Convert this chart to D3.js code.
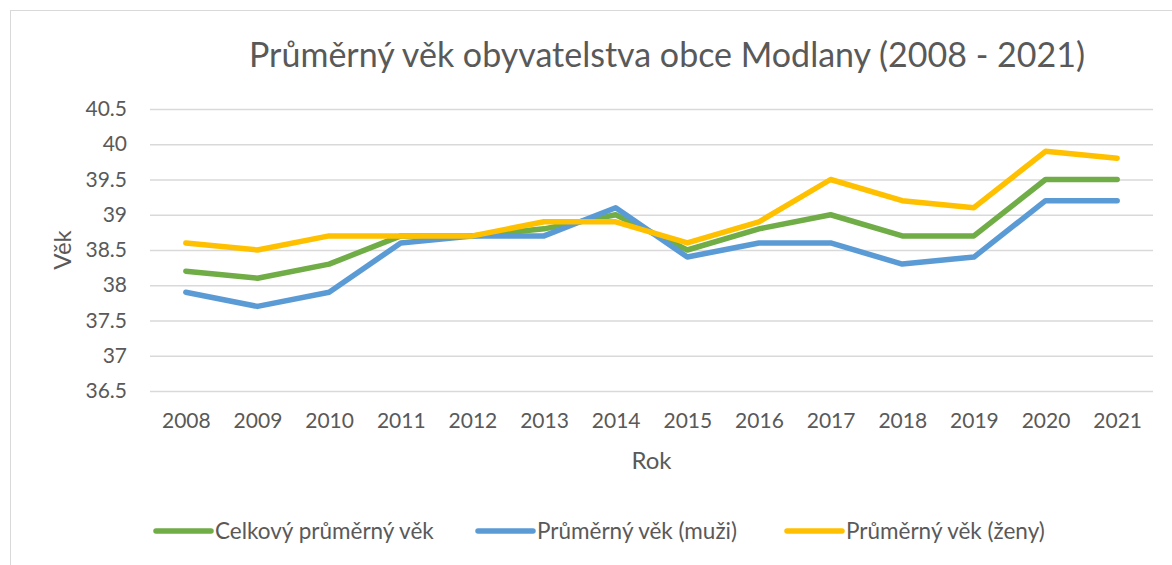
<!DOCTYPE html>
<html>
<head>
<meta charset="utf-8">
<script src="https://cdn.jsdelivr.net/npm/d3@7"></script>
<style>
  html, body { margin: 0; padding: 0; background: #fff; }
  svg { display: block; font-family: Lato, "Open Sans", sans-serif; }
</style>
</head>
<body>
<svg id="chart" width="1172" height="565"></svg>
<script>
/* ───── data ───── */
const years = ['2008','2009','2010','2011','2012','2013','2014','2015','2016','2017','2018','2019','2020','2021'];
const celkovy = [38.2, 38.1, 38.3, 38.7, 38.7, 38.8, 39.0, 38.5, 38.8, 39.0, 38.7, 38.7, 39.5, 39.5];
const muzi    = [37.9, 37.7, 37.9, 38.6, 38.7, 38.7, 39.1, 38.4, 38.6, 38.6, 38.3, 38.4, 39.2, 39.2];
const zeny    = [38.6, 38.5, 38.7, 38.7, 38.7, 38.9, 38.9, 38.6, 38.9, 39.5, 39.2, 39.1, 39.9, 39.8];
const yTicks  = [36.5, 37, 37.5, 38, 38.5, 39, 39.5, 40, 40.5];

const series = [
  { name: 'Celkový průměrný věk', values: celkovy, color: '#70AD47' },
  { name: 'Průměrný věk (muži)',  values: muzi,    color: '#5B9BD5' },
  { name: 'Průměrný věk (ženy)',  values: zeny,    color: '#FFC000' },
];

const svg = d3.select('#chart');
const textColor = '#595959';

// outer chart border
svg.append('rect')
  .attr('x', 10.5).attr('y', 10.5)
  .attr('width', 1200).attr('height', 600)
  .attr('fill', 'none').attr('stroke', '#d9d9d9').attr('stroke-width', 1);

const m = { left: 150, right: 1153, top: 109, bottom: 391 };

const x = d3.scalePoint().domain(years).range([m.left, m.right]).padding(0.5);
const y = d3.scaleLinear().domain([36.5, 40.5]).range([m.bottom, m.top]);

// gridlines
svg.append('g')
  .attr('class', 'grid')
  .attr('transform', `translate(${m.left},0)`)
  .call(d3.axisLeft(y).tickValues(yTicks).tickSize(-(m.right - m.left)).tickFormat(''))
  .call(g => g.select('.domain').remove())
  .call(g => g.selectAll('line').attr('stroke', '#d9d9d9').attr('stroke-width', 1.3));

// y axis labels
svg.append('g')
  .attr('transform', `translate(${m.left},0)`)
  .call(d3.axisLeft(y).tickValues(yTicks).tickSize(0).tickPadding(23).tickFormat(d => String(d)))
  .call(g => g.select('.domain').remove())
  .call(g => g.selectAll('text')
    .attr('fill', textColor).style('font-size', '21px')
    .style('font-family', 'Lato, sans-serif'));

// x axis labels
svg.append('g')
  .attr('transform', `translate(0,${m.bottom})`)
  .call(d3.axisBottom(x).tickSize(0).tickPadding(22))
  .call(g => g.select('.domain').remove())
  .call(g => g.selectAll('text')
    .attr('fill', textColor).style('font-size', '21px')
    .style('font-family', 'Lato, sans-serif'));

// lines
const line = d3.line()
  .x((d, i) => x(years[i]))
  .y(d => y(d));

svg.append('g')
  .selectAll('path')
  .data(series)
  .join('path')
  .attr('d', d => line(d.values))
  .attr('fill', 'none')
  .attr('stroke', d => d.color)
  .attr('stroke-width', 5.5)
  .attr('stroke-linejoin', 'round')
  .attr('stroke-linecap', 'round');

// title
svg.append('text')
  .attr('x', 667).attr('y', 67)
  .attr('text-anchor', 'middle')
  .attr('fill', textColor)
  .style('font-size', '34px')
  .text('Průměrný věk obyvatelstva obce Modlany (2008 - 2021)');

// axis titles
svg.append('text')
  .attr('x', (m.left + m.right) / 2).attr('y', 469)
  .attr('text-anchor', 'middle')
  .attr('fill', textColor)
  .style('font-size', '24px')
  .text('Rok');

svg.append('text')
  .attr('transform', `translate(71,${(m.top + m.bottom) / 2}) rotate(-90)`)
  .attr('text-anchor', 'middle')
  .attr('fill', textColor)
  .style('font-size', '24px')
  .text('Věk');

// legend
const legendX = [156, 478, 787];
const lg = svg.append('g')
  .selectAll('g')
  .data(series)
  .join('g')
  .attr('transform', (d, i) => `translate(${legendX[i]},531)`);

lg.append('line')
  .attr('x1', 0).attr('x2', 55)
  .attr('stroke', d => d.color)
  .attr('stroke-width', 5.5)
  .attr('stroke-linecap', 'round');

lg.append('text')
  .attr('x', 59).attr('y', 8)
  .attr('fill', textColor)
  .style('font-size', '22.5px')
  .text(d => d.name);
</script>
</body>
</html>
